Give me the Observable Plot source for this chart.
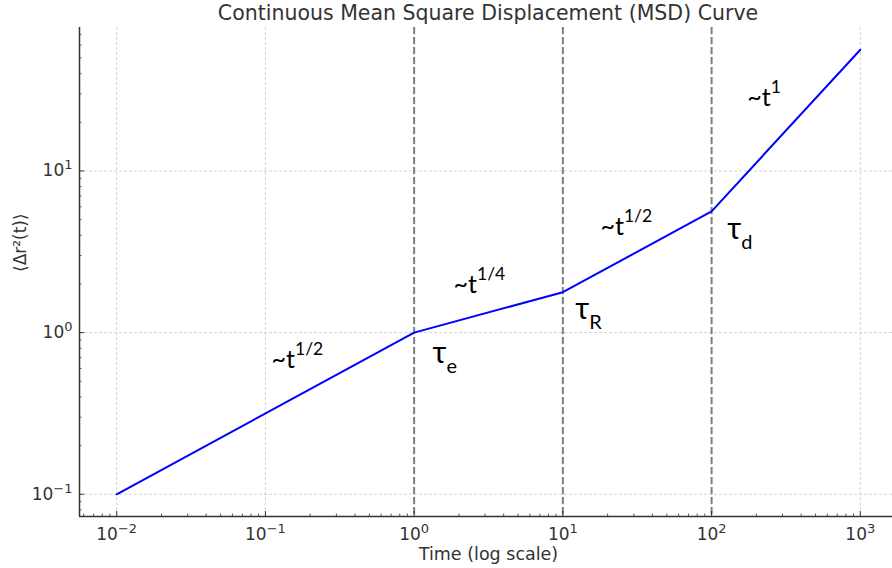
<!DOCTYPE html>
<html>
<head>
<meta charset="utf-8">
<script src="https://cdn.jsdelivr.net/npm/d3@7"></script>
<script src="https://cdn.jsdelivr.net/npm/@observablehq/plot@0.6"></script>
<style>
  body { margin: 0; background: #fff; font-family: "DejaVu Sans", sans-serif; }
  #wrap { position: relative; width: 892px; height: 568px; overflow: hidden; }
  #title { position: absolute; left: 488px; top: 1px; transform: translateX(-50%);
           font-size: 20.5px; line-height: 24px; color: #333; white-space: nowrap; }
  #chart { position: absolute; left: 0; top: 26px; }
</style>
</head>
<body>
<div id="wrap">
  <div id="title">Continuous Mean Square Displacement (MSD) Curve</div>
  <div id="chart"></div>
</div>
<script>
// Piecewise power-law MSD: breakpoints of the curve
const times = [0.01, 1, 10, 100, 1000];
const msd = [0.1, 1, 1.778, 5.623, 56.23];

// Characteristic times (entanglement, Rouse, disengagement)
const relaxTimes = [1, 10, 100];
const tauSub = ["e", "R", "d"];
const tauX = [1.33, 12.1, 127.6];
const tauY = [0.653, 1.22, 3.82];

// Scaling-regime annotations
const slopeBase = ["~t", "~t", "~t", "~t"];
const slopeExp = ["1/2", "1/4", "1/2", "1"];
const slopeX = [0.11, 1.84, 17.9, 174];
const slopeY = [0.6, 1.75, 4.0, 25.4];

// Axis ticks
const xMajor = [0.01, 0.1, 1, 10, 100, 1000];
const yMajor = [0.1, 1, 10];
const xDecades = [0.001, 0.01, 0.1, 1, 10, 100, 1000];
const yDecades = [0.01, 0.1, 1, 10];

const xDomain = [10 ** -2.25, 10 ** 3.25];
const yDomain = [10 ** -1.1375, 10 ** 1.8875];

const minorOf = (decades, [lo, hi]) =>
  decades.flatMap(d => [2, 3, 4, 5, 6, 7, 8, 9].map(k => k * d)).filter(v => v >= lo && v <= hi);
const xMinor = minorOf(xDecades, xDomain);
const yMinor = minorOf(yDecades, yDomain);

const powFormat = v => "10^" + Math.round(Math.log10(v));

const ink = "#333";
const annotFont = "Lato, 'DejaVu Sans', sans-serif";

const chart = Plot.plot({
  width: 892,
  height: 542,
  marginLeft: 79,
  marginRight: -5,
  marginTop: 1,
  marginBottom: 52,
  style: {fontFamily: "DejaVu Sans, sans-serif", fontSize: "17px", color: ink, background: "#fff", overflow: "visible"},
  x: {type: "log", domain: xDomain},
  y: {type: "log", domain: yDomain},
  marks: [
    Plot.gridX(xMajor, {stroke: "#bbb", strokeOpacity: 0.8, strokeWidth: 0.8, strokeDasharray: "3,2"}),
    Plot.gridY(yMajor, {stroke: "#bbb", strokeOpacity: 0.8, strokeWidth: 0.8, strokeDasharray: "3,2"}),
    Plot.ruleX(relaxTimes, {stroke: "#7f7f7f", strokeWidth: 2, strokeDasharray: "7,3"}),
    Plot.line(times, {x: times, y: msd, stroke: "#0000ff", strokeWidth: 2}),
    // left and bottom spines
    Plot.ruleX([xDomain[0]], {stroke: ink, strokeWidth: 1.5}),
    Plot.ruleY([yDomain[0]], {stroke: ink, strokeWidth: 1.5}),
    // inward ticks
    Plot.axisX(xMinor, {tickSize: -2.5, tickFormat: () => "", label: null, stroke: ink, strokeWidth: 0.8}),
    Plot.axisY(yMinor, {tickSize: -2.5, tickFormat: () => "", label: null, stroke: ink, strokeWidth: 0.8}),
    Plot.axisX(xMajor, {tickSize: -5, tickPadding: 16, tickFormat: powFormat, label: null, stroke: ink, fill: ink, fontSize: 17}),
    Plot.axisY(yMajor, {tickSize: -5, tickPadding: 12, tickFormat: powFormat, label: null, stroke: ink, fill: ink, fontSize: 17}),
    // axis titles
    Plot.text(["Time (log scale)"], {frameAnchor: "bottom", lineAnchor: "bottom", dy: 43, text: d => d, fill: ink, fontSize: 17.5}),
    Plot.text(["\u27E8\u0394r\u00B2(t)\u27E9"], {frameAnchor: "left", rotate: -90, dx: -59, text: d => d, fill: ink, fontSize: 17}),
    // annotations
    Plot.text(slopeX, {x: slopeX, y: slopeY, text: slopeBase, textAnchor: "start", lineAnchor: "bottom",
      fontSize: 25, fontFamily: annotFont, fill: "#000"}),
    Plot.text(tauX, {x: tauX, y: tauY, text: () => "\u03C4", textAnchor: "start", lineAnchor: "bottom",
      fontSize: 30, fontFamily: annotFont, fill: "#000"})
  ]
});

// exponents and subscripts as tspans
const NS = "http://www.w3.org/2000/svg";
const addSpan = (el, str, dy, size) => {
  const t = document.createElementNS(NS, "tspan");
  t.setAttribute("dy", dy);
  t.setAttribute("font-size", size);
  t.textContent = str;
  el.appendChild(t);
};
const texts = Array.from(chart.querySelectorAll("text"));
texts.filter(el => el.textContent.startsWith("10^")).forEach(el => {
  const exp = el.textContent.slice(3).replace("-", "\u2212");
  el.textContent = "10";
  addSpan(el, exp, "-7", "13");
});
texts.filter(el => el.textContent === "~t").forEach((el, i) => addSpan(el, slopeExp[i], "-13", "17.5"));
texts.filter(el => el.textContent === "\u03C4").forEach((el, i) => addSpan(el, tauSub[i], "10", "20"));

document.getElementById("chart").appendChild(chart);
</script>
</body>
</html>
